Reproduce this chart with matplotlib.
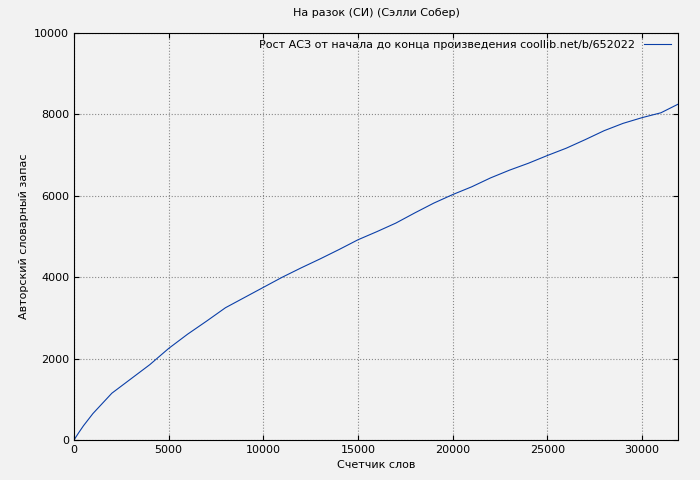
import matplotlib.pyplot as plt

# words counter vs author vocabulary
words = [0, 250, 500, 1000, 2000, 3000, 4000, 5000, 6000, 7000, 8000, 9000, 10000,
         11000, 12000, 13000, 14000, 15000, 16000, 17000, 18000, 19000, 20000,
         21000, 22000, 23000, 24000, 25000, 26000, 27000, 28000, 29000, 30000,
         31000, 31900]
vocab = [0, 180, 350, 650, 1150, 1500, 1850, 2250, 2600, 2920, 3250, 3500, 3750,
         4000, 4230, 4450, 4680, 4920, 5120, 5330, 5580, 5820, 6030,
         6220, 6440, 6630, 6800, 6990, 7170, 7380, 7600, 7780, 7920,
         8040, 8250]

fig = plt.figure(figsize=(7, 4.8), dpi=100, facecolor="#f2f2f2")
ax = fig.add_axes([74/700, 40/480, 604/700, 407/480])
ax.set_facecolor("#f2f2f2")

ax.plot(words, vocab, color="#0b3fa8", linewidth=0.8,
        label="Рост АСЗ от начала до конца произведения coollib.net/b/652022")

ax.set_xlim(0, 31900)
ax.set_ylim(0, 10000)
ax.set_xticks(range(0, 31000, 5000))
ax.set_yticks(range(0, 10001, 2000))
ax.grid(True, color="#888888", linestyle=":", linewidth=0.8)
ax.tick_params(labelsize=8, direction="in", top=True, right=True)

ax.set_title("На разок (СИ) (Сэлли Собер)", fontsize=8, pad=12)
ax.set_xlabel("Счетчик слов", fontsize=8)
ax.set_ylabel("Авторский словарный запас", fontsize=8)

ax.legend(loc="upper right", fontsize=8, frameon=False, markerfirst=False,
          handlelength=2.5, borderaxespad=0.2)

fig.savefig("out.png", dpi=100, facecolor=fig.get_facecolor())
